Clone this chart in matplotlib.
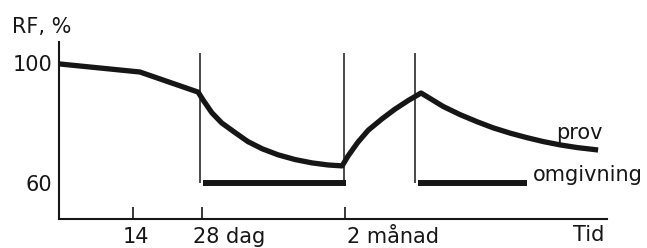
import matplotlib
matplotlib.use("Agg")
import matplotlib.pyplot as plt

# ---- data (time in days, RF in %) ----
prov_t = [-1.0, 15.4, 27.2,
          28.2, 30.0, 32.0, 34.7, 37.3, 40.2, 43.4, 46.9, 50.3, 53.6, 56.4,
          57.6, 59.6, 61.7, 64.5, 67.1, 69.8, 72.4,
          76.9, 80.3, 83.8, 87.0, 90.5, 93.9, 97.2, 100.6, 104.1, 108.3]
prov_rf = [99.7, 97.0, 90.3,
           87.7, 83.4, 80.0, 76.8, 73.8, 71.4, 69.4, 67.8, 66.7, 66.0, 65.7,
           69.0, 73.6, 77.6, 81.4, 84.6, 87.5, 90.0,
           85.5, 82.8, 80.4, 78.4, 76.6, 75.1, 73.8, 72.7, 71.8, 71.0]

omg_start = [28.2, 71.8]
omg_end = [57.2, 93.9]
omg_rf = [60.0, 60.0]

switch_t = [27.6, 56.8, 71.2]
switch_top = 103.3

xtick_pos = [14, 28, 57]
xtick_labels = ["14", "28 dag", "2 månad"]
ytick_pos = [60, 100]
ytick_labels = ["60", "100"]

ink = "#161616"
plt.rcParams['font.family'] = ['DejaVu Sans']

fig = plt.figure(figsize=(6.47, 2.48), dpi=100)
ax = fig.add_axes([59/647, 1-219/248, (607-59)/647, (219-42)/248])
ax.set_xlim(-1.0, 110.1)
ax.set_ylim(48, 107)

for s in ["top", "right"]:
    ax.spines[s].set_visible(False)
for s in ["left", "bottom"]:
    ax.spines[s].set_linewidth(1.5)
    ax.spines[s].set_color(ink)

# switching lines
for t in switch_t:
    ax.plot([t, t], [omg_rf[0], switch_top], color=ink, lw=1.1, solid_capstyle="butt")

# omgivning
for a, b, r in zip(omg_start, omg_end, omg_rf):
    ax.plot([a, b], [r, r], color=ink, lw=4.3, solid_capstyle="butt")

# prov
ax.plot(prov_t, prov_rf, color=ink, lw=3.8, solid_capstyle="butt", solid_joinstyle="round")

# ticks
ax.set_xticks(xtick_pos)
ax.set_xticklabels([])
ax.tick_params(axis="x", direction="in", length=8.5, width=1.2, color=ink)
ax.set_yticks(ytick_pos)
ax.set_yticklabels(ytick_labels, fontsize=15, color=ink)
ax.tick_params(axis="y", length=0, pad=5)

offsets = [3, -9, 2]
aligns = ["center", "left", "left"]
for pos, lab, dx, ha in zip(xtick_pos, xtick_labels, offsets, aligns):
    ax.annotate(lab, xy=(pos, 0), xycoords=("data", "axes fraction"),
                xytext=(dx*0.72, -24*0.72), textcoords="offset points",
                ha=ha, va="baseline", fontsize=15, color=ink, annotation_clip=False)

ax.annotate("Tid", xy=(103.2, 0), xycoords=("data", "axes fraction"),
            xytext=(0, -22*0.72), textcoords="offset points",
            ha="left", va="baseline", fontsize=15, color=ink, annotation_clip=False)

ax.text(99.8, 74.8, "prov", fontsize=15, color=ink, ha="left", va="baseline")
ax.text(95.1, 60.7, "omgivning", fontsize=15, color=ink, ha="left", va="baseline")

fig.text(12/647, 1-33/248, "RF, %", fontsize=15, color=ink, ha="left", va="baseline")

fig.savefig("out.png", dpi=100)
